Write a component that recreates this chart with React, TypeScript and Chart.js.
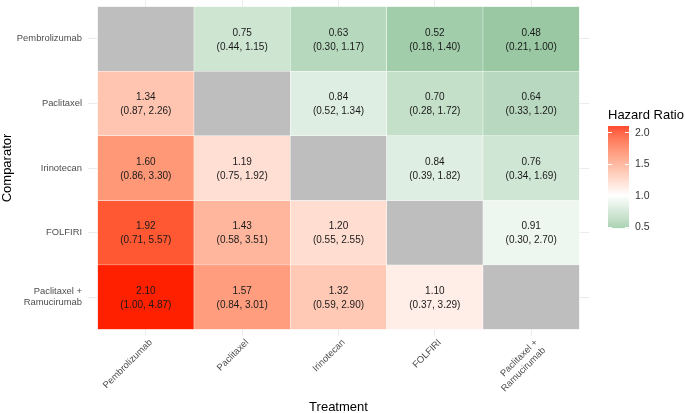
import React, { useEffect, useRef } from "react";
import { Chart, registerables } from "chart.js";

Chart.register(...registerables);

// Treatment (columns) and comparator (rows) names
const treatments = ["Pembrolizumab", "Paclitaxel", "Irinotecan", "FOLFIRI", "Paclitaxel +\nRamucirumab"];
const comparators = ["Pembrolizumab", "Paclitaxel", "Irinotecan", "FOLFIRI", "Paclitaxel +\nRamucirumab"];

// Hazard ratios, row = comparator, column = treatment (null on the diagonal)
const hazardRatio: (number | null)[][] = [
  [null, 0.75, 0.63, 0.52, 0.48],
  [1.34, null, 0.84, 0.7, 0.64],
  [1.6, 1.19, null, 0.84, 0.76],
  [1.92, 1.43, 1.2, null, 0.91],
  [2.1, 1.57, 1.32, 1.1, null],
];
const ciLower: (number | null)[][] = [
  [null, 0.44, 0.3, 0.18, 0.21],
  [0.87, null, 0.52, 0.28, 0.33],
  [0.86, 0.75, null, 0.39, 0.34],
  [0.71, 0.58, 0.55, null, 0.3],
  [1.0, 0.84, 0.59, 0.37, null],
];
const ciUpper: (number | null)[][] = [
  [null, 1.15, 1.17, 1.4, 1.0],
  [2.26, null, 1.34, 1.72, 1.2],
  [3.3, 1.92, null, 1.82, 1.69],
  [5.57, 3.51, 2.55, null, 2.7],
  [4.87, 3.01, 2.9, 3.29, null],
];
const legendTicks = [0.5, 1.0, 1.5, 2.0];

const FONT = "'Liberation Sans', Arial, Helvetica, sans-serif";
const LOW_RGB = [0, 139, 69];
const MID_RGB = [255, 255, 255];
const HIGH_RGB = [255, 32, 0];
const NA_COLOR = "#BEBEBE";
const MIDPOINT = 1;

// --- Lab colour interpolation (diverging scale around the midpoint) ---
function toLinear(c: number) {
  const v = c / 255;
  return v <= 0.04045 ? v / 12.92 : Math.pow((v + 0.055) / 1.055, 2.4);
}
function fromLinear(v: number) {
  const c = v <= 0.0031308 ? 12.92 * v : 1.055 * Math.pow(v, 1 / 2.4) - 0.055;
  return Math.round(Math.min(1, Math.max(0, c)) * 255);
}
const Xn = 0.95047, Yn = 1.0, Zn = 1.08883;
function f(t: number) {
  return t > 216 / 24389 ? Math.cbrt(t) : (24389 / 27 * t + 16) / 116;
}
function finv(t: number) {
  return t * t * t > 216 / 24389 ? t * t * t : (116 * t - 16) / (24389 / 27);
}
function rgbToLab([r, g, b]: number[]) {
  const R = toLinear(r), G = toLinear(g), B = toLinear(b);
  const X = (0.4124 * R + 0.3576 * G + 0.1805 * B) / Xn;
  const Y = (0.2126 * R + 0.7152 * G + 0.0722 * B) / Yn;
  const Z = (0.0193 * R + 0.1192 * G + 0.9505 * B) / Zn;
  const fx = f(X), fy = f(Y), fz = f(Z);
  return [116 * fy - 16, 500 * (fx - fy), 200 * (fy - fz)];
}
function labToRgb([L, a, b]: number[]) {
  const fy = (L + 16) / 116;
  const fx = fy + a / 500;
  const fz = fy - b / 200;
  const X = finv(fx) * Xn, Y = finv(fy) * Yn, Z = finv(fz) * Zn;
  const R = 3.2406 * X - 1.5372 * Y - 0.4986 * Z;
  const G = -0.9689 * X + 1.8758 * Y + 0.0415 * Z;
  const B = 0.0557 * X - 0.204 * Y + 1.057 * Z;
  return [fromLinear(R), fromLinear(G), fromLinear(B)];
}
const LOW_LAB = rgbToLab(LOW_RGB);
const MID_LAB = rgbToLab(MID_RGB);
const HIGH_LAB = rgbToLab(HIGH_RGB);

const allValues = hazardRatio.flat().filter((v): v is number => v != null);
const valueMin = Math.min(...allValues);
const valueMax = Math.max(...allValues);
const maxDev = Math.max(Math.abs(valueMin - MIDPOINT), Math.abs(valueMax - MIDPOINT));

function colorFor(v: number) {
  const t = (v - MIDPOINT) / maxDev;
  const end = t < 0 ? LOW_LAB : HIGH_LAB;
  const k = Math.min(1, Math.abs(t));
  const lab = MID_LAB.map((m, i) => m + (end[i] - m) * k);
  const [r, g, b] = labToRgb(lab);
  return `rgb(${r},${g},${b})`;
}

// Two-line value + confidence interval inside each tile
const cellLabels = {
  id: "cellLabels",
  afterDatasetsDraw(chart: any) {
    const ctx = chart.ctx;
    ctx.save();
    ctx.font = `10px ${FONT}`;
    ctx.fillStyle = "#1A1A1A";
    ctx.textAlign = "center";
    ctx.textBaseline = "middle";
    comparators.forEach((_, r) => {
      const meta = chart.getDatasetMeta(r);
      meta.data.forEach((bar: any, c: number) => {
        const v = hazardRatio[r][c];
        if (v == null) return;
        const { x, y, base } = bar.getProps(["x", "y", "base"], true);
        const cy = (y + base) / 2;
        ctx.fillText(v.toFixed(2), x, cy - 6);
        ctx.fillText(`(${(ciLower[r][c] as number).toFixed(2)}, ${(ciUpper[r][c] as number).toFixed(2)})`, x, cy + 8);
      });
    });
    ctx.restore();
  },
};

// Colour bar legend on the right
const colorBar = {
  id: "colorBar",
  afterDraw(chart: any) {
    const ctx = chart.ctx;
    const left = 608, width = 21, top = 126, bottom = 228;
    const toY = (v: number) => bottom - ((v - valueMin) / (valueMax - valueMin)) * (bottom - top);
    ctx.save();
    ctx.font = `13px ${FONT}`;
    ctx.fillStyle = "#000";
    ctx.textAlign = "left";
    ctx.textBaseline = "middle";
    ctx.fillText("Hazard Ratio", 608, 115);
    for (let yy = top; yy < bottom; yy += 0.5) {
      const v = valueMax - ((yy - top) / (bottom - top)) * (valueMax - valueMin);
      ctx.fillStyle = colorFor(v);
      ctx.fillRect(left, yy, width, 0.6);
    }
    ctx.strokeStyle = "#FFFFFF";
    ctx.lineWidth = 1;
    ctx.font = `10.5px ${FONT}`;
    ctx.fillStyle = "#333333";
    legendTicks.forEach((t) => {
      const y = Math.round(toY(t)) + 0.5;
      ctx.beginPath();
      ctx.moveTo(left, y);
      ctx.lineTo(left + 4, y);
      ctx.moveTo(left + width - 4, y);
      ctx.lineTo(left + width, y);
      ctx.stroke();
      ctx.fillText(t.toFixed(1), 635, toY(t) + 0.5);
    });
    ctx.restore();
  },
};

export default function App() {
  const canvasRef = useRef<HTMLCanvasElement | null>(null);

  useEffect(() => {
    document.body.style.margin = "0";
    const canvas = canvasRef.current;
    if (!canvas) return;

    const datasets = comparators.map((name, r) => ({
      label: name,
      data: treatments.map((_, c) => ({ x: c, y: [r - 0.5, r + 0.5] })),
      backgroundColor: treatments.map((_, c) => {
        const v = hazardRatio[r][c];
        return v == null ? NA_COLOR : colorFor(v);
      }),
      borderColor: "#FFFFFF",
      borderWidth: 0.5,
      borderSkipped: false,
      grouped: false,
      categoryPercentage: 1,
      barPercentage: 1,
    }));

    const chart = new Chart(canvas, {
      type: "bar",
      data: { datasets: datasets as any },
      plugins: [cellLabels, colorBar],
      options: {
        responsive: false,
        animation: false,
        devicePixelRatio: 1,
        events: [],
        layout: { padding: { top: 0, right: 96, left: 0, bottom: 0 } },
        plugins: { legend: { display: false }, tooltip: { enabled: false } },
        scales: {
          x: {
            type: "linear",
            offset: false,
            min: -0.6,
            max: 4.6,
            afterBuildTicks: (scale: any) => {
              scale.ticks = treatments.map((_, i) => ({ value: i }));
            },
            afterFit: (scale: any) => {
              scale.height = 77;
              scale.paddingLeft = 0;
              scale.paddingRight = 0;
            },
            grid: { color: "#EBEBEB", lineWidth: 1, drawTicks: false, offset: false },
            border: { display: false },
            ticks: {
              autoSkip: false,
              maxRotation: 45,
              minRotation: 45,
              padding: 1,
              labelOffset: 5,
              color: "#4D4D4D",
              font: { family: FONT, size: 9.4 },
              callback: (v: any) => treatments[Number(v)]?.split("\n"),
            },
            title: {
              display: true,
              text: "Treatment",
              color: "#000",
              font: { family: FONT, size: 13 },
              padding: { top: 0, bottom: -2 },
            },
          },
          y: {
            type: "linear",
            reverse: true,
            offset: false,
            min: -0.6,
            max: 4.6,
            afterBuildTicks: (scale: any) => {
              scale.ticks = comparators.map((_, i) => ({ value: i }));
            },
            afterFit: (scale: any) => {
              scale.width = 88;
              scale.paddingTop = 0;
              scale.paddingBottom = 0;
            },
            grid: { color: "#EBEBEB", lineWidth: 1, drawTicks: false, offset: false },
            border: { display: false },
            ticks: {
              autoSkip: false,
              padding: 6,
              color: "#4D4D4D",
              font: { family: FONT, size: 9.4 },
              callback: (v: any) => comparators[Number(v)]?.split("\n"),
            },
            title: {
              display: true,
              text: "Comparator",
              color: "#000",
              font: { family: FONT, size: 13 },
              padding: { top: 0, bottom: 0 },
            },
          },
        },
      },
    });

    return () => chart.destroy();
  }, []);

  return (
    <div style={{ width: 685, height: 413, background: "#FFFFFF" }}>
      <canvas ref={canvasRef} width={685} height={413} style={{ display: "block" }} />
    </div>
  );
}
